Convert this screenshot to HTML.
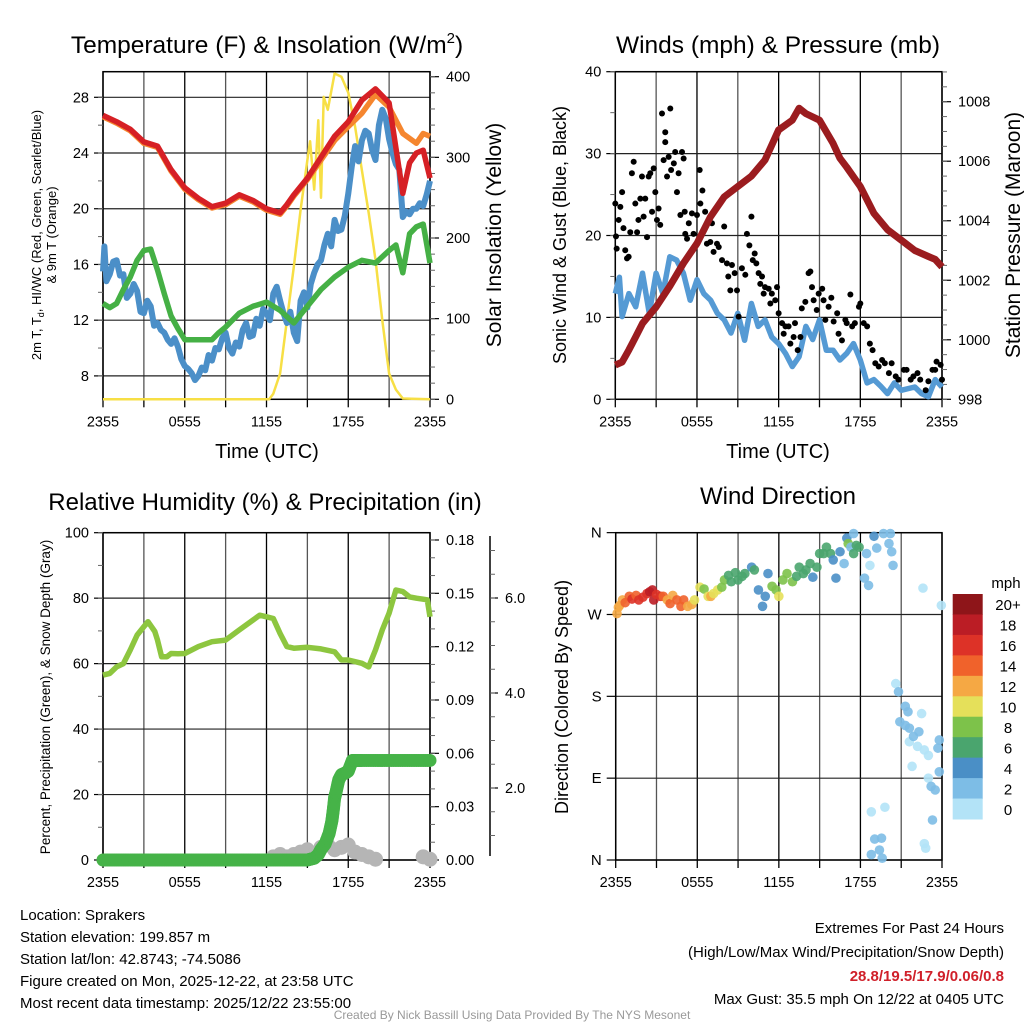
<!DOCTYPE html>
<html><head><meta charset="utf-8">
<style>
html,body{margin:0;padding:0;background:#fff;}
svg{display:block;font-family:"Liberation Sans",sans-serif;}
</style></head>
<body>
<svg id="chart" width="1024" height="1024" viewBox="0 0 1024 1024" xmlns="http://www.w3.org/2000/svg">
<g id="g"></g>
</svg>
<script>
// ---------------- data ----------------
const xTickLabels=["2355","0555","1155","1755","2355"];
const redH=[0,1,2,3,4,5,6,7,8,9,10,11,12,13,13.5,14,15,16,17,18,19,20,21,22,22.5,23,23.5,24];
const redT=[26.7,26.25,25.7,24.8,24.5,22.8,21.5,20.75,20.15,20.4,21.0,20.6,20.0,19.7,20.3,21.0,22.2,23.7,25.2,26.25,27.8,28.6,27.6,21.1,23.3,24.0,24.2,22.2];
const orangeH=[0,1,2,3,4,5,6,7,8,9,10,11,12,13,13.5,14,15,16,17,18,19,20,21,22,23,23.5,24];
const orangeT=[26.6,26.15,25.6,24.7,24.4,22.7,21.4,20.65,20.05,20.3,20.9,20.5,19.9,19.6,20.2,20.9,22.1,23.5,24.9,25.9,26.85,28.2,27.3,25.4,24.7,25.4,25.2];
const greenH=[0,0.5,1,1.5,2,2.5,3,3.5,4,4.5,5,5.5,6,7,8,8.5,9,10,11,12,13,14,15,16,17,18,19,20,21,21.5,22,22.5,23,23.5,24];
const greenT=[13.2,12.9,13.2,14.2,15.1,16.3,17.0,17.1,15.6,13.9,12.3,11.4,10.6,10.6,10.6,11.1,11.5,12.5,13.0,13.3,12.7,11.8,13.0,14.2,15.1,15.8,16.3,16.1,17.0,17.4,15.4,18.2,18.7,18.9,16.1];
const blueH=[0,0.1,0.25,0.5,0.75,1,1.25,1.5,1.75,2,2.25,2.5,2.75,3,3.25,3.5,3.75,4,4.25,4.5,4.75,5,5.25,5.5,5.75,6,6.25,6.5,6.75,7,7.25,7.5,7.75,8,8.25,8.5,8.75,9,9.25,9.5,9.75,10,10.25,10.5,10.75,11,11.25,11.5,11.75,12,12.25,12.5,12.75,13,13.25,13.5,13.75,14,14.25,14.5,14.75,15,15.25,15.5,15.75,16,16.25,16.5,16.75,17,17.25,17.5,17.75,18,18.25,18.5,18.75,19,19.25,19.5,19.75,20,20.25,20.5,20.75,21,21.25,21.5,21.75,22,22.25,22.5,22.75,23,23.25,23.5,23.75,24];
const blueT=[15.5,17.3,14.8,15.3,16.2,16.3,15.2,15.3,13.6,13.9,14.6,14.1,12.6,12.5,13.4,13.0,11.6,11.8,11.3,11.1,10.6,10.3,10.7,10.1,9.2,8.7,8.5,8.2,7.7,8.0,8.6,8.4,9.5,9.1,10.0,9.9,10.7,11.1,10.0,9.6,10.4,10.1,11.3,11.8,10.8,10.9,12.1,11.6,12.8,12.5,12.0,13.9,14.4,13.4,12.5,11.8,12.6,11.1,10.5,13.4,14.0,12.9,14.6,15.4,16.0,16.3,17.4,18.2,17.3,19.2,18.4,18.5,19.5,21.1,23.0,24.5,23.4,24.9,25.6,25.4,24.2,23.5,26.0,27.1,26.5,25.0,24.0,23.2,22.8,19.4,19.8,19.6,20.0,20.0,20.4,20.2,21.0,22.0];
const solarH=[0,12.2,12.5,13,13.5,14,14.5,15,15.2,15.5,15.8,16,16.2,16.5,17,17.5,18,18.5,19,19.5,20,20.5,21,21.5,22,24];
const solarW=[0,0,7,32,98,164,235,297,320,260,346,250,375,359,404,400,380,338,284,231,173,98,32,12,1,0];
const pressH=[0,0.5,1,1.5,2,3,4,5,6,7,8,9,10,11,12,13,13.5,14,15,16,16.5,17,18,19,20,21,22,23,23.5,24];
const pressMb=[999.15,999.25,999.66,1000.1,1000.55,1001.1,1001.8,1002.57,1003.24,1004.14,1004.8,1005.15,1005.5,1006.04,1007.05,1007.38,1007.78,1007.6,1007.38,1006.6,1006.1,1005.8,1005.15,1004.25,1003.7,1003.35,1003.0,1002.8,1002.7,1002.45];
const windH=[0,0.3,0.5,1,1.5,2,2.5,3,3.5,4,4.5,5,5.5,6,6.5,7,7.5,8,8.5,9,9.5,10,10.5,11,11.5,12,12.5,13,13.5,14,14.5,15,15.5,16,16.5,17,17.5,18,18.5,19,19.5,20,20.5,21,22,22.5,23,23.5,24];
const windMph=[12.9,14.9,10.1,12.9,11.3,15.4,10.5,15.4,12.9,17.4,17.0,15.4,12.1,14.6,12.9,12.1,10.5,9.7,8.1,10.5,7.2,11.7,8.9,9.7,7.6,6.8,5.6,4.0,5.2,8.9,7.3,9.7,6.0,6.0,4.8,5.6,6.8,4.8,2.0,2.4,1.6,0.7,2.0,1.1,1.5,0.7,0.3,2.4,1.5];
const gustH=[0,0.05,0.1,0.25,0.37,0.5,0.6,0.73,0.86,0.98,1.1,1.22,1.35,1.47,1.6,1.7,1.84,1.96,2.08,2.2,2.33,2.45,2.57,2.7,2.82,2.94,3.06,3.18,3.3,3.43,3.55,3.67,3.67,3.8,3.92,4.04,4.1,4.3,4.4,4.53,4.65,4.78,4.9,5.02,5.1,5.14,5.27,5.4,5.63,5.75,6.0,6.2,6.25,6.4,6.6,6.73,6.98,7.1,7.22,7.47,7.6,7.84,8.0,8.2,8.3,8.45,8.57,8.77,8.94,9.06,9.3,9.55,9.67,9.85,10.0,10.1,10.24,10.36,10.53,10.65,10.78,10.9,11.0,11.27,11.39,11.5,11.75,11.88,12.0,12.25,12.37,12.5,12.73,12.86,13.1,13.2,13.4,13.6,13.7,13.96,14.2,14.33,14.45,14.57,14.8,14.94,15.2,15.3,15.43,15.67,15.87,16.04,16.3,16.4,16.65,16.9,17.0,17.27,17.4,17.6,17.9,18.0,18.25,18.5,18.7,18.9,19.1,19.35,19.6,19.8,20.1,20.3,20.6,20.8,21.2,21.4,21.7,21.9,22.2,22.4,22.8,23.0,23.3,23.5,23.6,23.9,24];
const gustMph=[23.9,19.9,18.4,21.9,23.5,25.3,20.9,18.2,17.2,17.4,20.4,27.6,29.0,23.9,20.4,21.9,24.5,27.2,22.3,24.5,19.8,27.2,27.6,22.9,28.2,25.3,21.9,23.3,21.3,34.9,29.2,32.6,31.4,27.2,29.6,35.5,28.0,28.8,30.2,25.3,27.6,22.5,30.2,29.4,22.9,20.2,19.6,21.5,22.7,20.2,22.5,28.0,23.9,25.5,22.9,19.0,19.2,21.5,18.0,19.0,18.6,17.0,21.1,16.6,15.0,13.3,16.4,15.4,13.3,10.1,16.0,15.2,20.2,18.8,22.3,17.0,17.8,16.6,15.4,14.1,15.0,12.9,13.7,13.5,11.7,12.9,12.1,13.7,10.5,9.3,8.0,8.9,8.9,6.8,7.6,9.3,6.0,7.6,11.1,11.9,15.4,15.6,13.7,12.1,10.9,12.9,13.5,12.1,9.7,11.3,12.4,9.5,10.5,8.0,7.2,9.7,9.3,12.8,8.9,9.3,11.3,11.7,9.3,8.9,6.8,6.0,4.4,4.0,4.8,4.4,3.2,4.4,2.8,2.4,3.6,3.6,2.4,2.8,3.2,2.4,1.1,2.2,3.6,3.6,4.6,4.2,2.4];
const rhH=[0,0.5,1,1.5,2,2.5,3,3.3,3.8,4,4.3,4.7,5,5.5,6,7,8,9,10,11,11.5,12,12.5,13,13.5,14,15,16,17,17.5,18,19,19.5,20,20.5,21,21.5,22,22.5,23,23.8,24];
const rhPct=[56.5,57,59,60,64.2,68.7,71.3,72.8,69.8,67.2,62.1,62.1,63.1,63.0,63.1,65.2,66.7,67.2,70.3,73.3,74.8,74.3,73.8,69.2,65.2,64.7,65.0,64.5,63.6,61.1,61.1,60.1,59.0,64.2,70.3,75.4,82.5,82.0,80.4,80.0,79.5,74.3];
const precipH=[0,1,2,3,4,5,6,7,8,9,10,11,12,13,14,15,15.5,15.8,16,16.3,16.6,16.8,16.9,17.0,17.1,17.3,17.5,17.8,18,18.3,18.6,19,20,21,22,23,24];
const precipIn=[0,0,0,0,0,0,0,0,0,0,0,0,0,0,0,0,0.001,0.003,0.006,0.009,0.015,0.022,0.028,0.035,0.038,0.045,0.048,0.049,0.05,0.056,0.056,0.056,0.056,0.056,0.056,0.056,0.056];
const snowH=[12.5,13,13.5,14,14.5,15,15.5,16,16.5,17,17.5,18,18.5,19,19.5,20,23.5,24];
const snowIn=[0.55,0.6,0.55,0.6,0.65,0.7,0.6,0.75,0.8,0.7,0.75,0.8,0.65,0.6,0.55,0.5,0.55,0.5];
const dirH=[0.1,0.2,0.3,0.5,0.7,1.0,1.2,1.5,1.7,2.0,2.3,2.5,2.7,2.8,3.0,3.3,3.5,3.8,4.0,4.2,4.5,4.8,5.0,5.3,5.6,5.8,6.2,6.5,6.8,7.0,7.2,7.5,7.8,8.0,8.3,8.5,8.8,9.0,9.3,9.5,10.0,10.2,10.5,10.8,11.0,11.2,11.5,11.8,12.0,12.3,12.6,13.0,13.3,13.5,13.8,14.0,14.3,14.5,14.8,15.0,15.3,15.5,15.8,16.0,16.2,16.5,16.8,17.0,17.1,17.3,17.5,17.5,17.7,17.9,18.3,18.45,18.6,18.7,19.0,19.2,19.7,20.1,20.2,20.3,20.4,20.6,20.8,20.9,21.3,21.3,21.5,21.6,21.6,21.8,21.9,22.2,22.3,22.5,22.6,22.7,23.0,23.0,23.2,23.3,23.5,23.7,23.8,23.8,23.95,18.8,19.8,19.05,19.55,18.8,19.4,19.6,22.7,22.8];
const dirDeg=[271,278,280,286,283,290,287,291,286,289,293,295,297,286,292,290,290,286,282,291,286,279,286,279,281,286,300,298,290,290,293,297,300,308,313,306,316,308,312,315,322,319,297,279,290,315,301,297,290,308,315,306,312,322,315,319,326,311,322,337,337,344,337,330,310,339,326,354,348,344,359,337,346,344,310,337,302,324,356,343,359,348,359,339,324,194,185,152,169,148,163,145,130,103,136,125,141,161,299,121,115,90,81,44,77,123,132,97,280,53,58,23,24,6,11,2,18,13];
const dirSpd=[12,13,13,12,14,15,16,15,17,16,17,18,19,18,16,17,15,13,14,13,15,14,15,12,12,11,10,8,10,13,10,11,8,8,6,7,7,6,6,7,5,6,4,4,5,5,8,9,10,9,8,9,7,7,7,6,6,5,6,7,7,6,6,5,4,4,3,4,8,3,2,6,6,6,3,3,2,1,4,2,2,2,2,2,2,1,3,2,2,2,3,2,1,1,3,1,2,1,0,1,1,1,2,3,2,3,3,3,0,1,1,2,2,3,2,2,1,1];
const barLabels=["20+","18","16","14","12","10","8","6","4","2","0"];
const barColors=["#8e1519","#bb1d25","#dd3227","#f0622b","#f5a844","#e5e05a","#7dc24a","#4aa56e","#4a8fc6","#7dbde6","#b3e3f7"];

// ---------------- helpers ----------------
const NS="http://www.w3.org/2000/svg";
const G=document.getElementById("g");
function mk(tag,attrs,parent){const e=document.createElementNS(NS,tag);for(const k in attrs)e.setAttribute(k,attrs[k]);(parent||G).appendChild(e);return e;}
function txt(s,x,y,size,anchor,extra,parent){const t=mk("text",Object.assign({x:x,y:y,"font-size":size,"text-anchor":anchor||"middle",fill:"#000"},extra||{}),parent);t.textContent=s;return t;}
function line(x1,y1,x2,y2,stroke,w,parent){return mk("line",{x1:x1,y1:y1,x2:x2,y2:y2,stroke:stroke,"stroke-width":w},parent);}
function pathFrom(xs,ys,fx,fy){let d="";for(let i=0;i<xs.length;i++){d+=(i?"L":"M")+fx(xs[i]).toFixed(1)+","+fy(ys[i]).toFixed(1);}return d;}

const P1={x0:103,x1:430,top:71.7,bot:399.3};
const P2={x0:615.3,x1:942,top:71.7,bot:399.3};
const P3={x0:103,x1:430,top:532.7,bot:860};
const P4={x0:615.7,x1:942,top:532.7,bot:860};
const sx=(p)=>(h)=>p.x0+h/24*(p.x1-p.x0);
const yT=(v)=>97.3+(28-v)*13.93;
const ySol=(v)=>399.3-v*0.8065;
const yWind=(v)=>399.3-v*8.19;
const yPres=(v)=>399.3-(v-998)*29.76;
const yRH=(v)=>860-v*3.273;
const yPre=(v)=>860-v*1777.8;
const ySnow=(v)=>883-v*47.5;
const yDir=(v)=>860-v*0.9093;

function frame(p,name,hLines,parent){
  const g=mk("g",{},parent);
  
  
  for(let i=0;i<=8;i++){const x=p.x0+i*(p.x1-p.x0)/8;line(x,p.top,x,p.bot,i%2?"#555":"#000",1.3,g);line(x,p.bot,x,p.bot+8,"#000",1.3,g);}
  hLines.forEach(y=>line(p.x0,y,p.x1,y,"#222",1.2,g));
  mk("rect",{x:p.x0,y:p.top,width:p.x1-p.x0,height:p.bot-p.top,fill:"none",stroke:"#000","stroke-width":1.5},g);
  const lg=mk("g",{},parent);
  
  
  xTickLabels.forEach((s,i)=>txt(s,p.x0+i*(p.x1-p.x0)/4,p.bot+27,14.5,"middle",{},lg));
}
function yAxis(x,vals,fy,fmt,side,size,minors,name){
  const g=mk("g",{});
  
  
  const dir=side==="left"?-1:1;
  vals.forEach(v=>{const y=fy(v);line(x,y,x+dir*9,y,"#000",1.2,g);txt(fmt(v),x+dir*(side==="left"?14:16),y+5,size||14,side==="left"?"end":"start",{},g);});
  (minors||[]).forEach(v=>{const y=fy(v);line(x,y,x+dir*5,y,"#666",1,g);});
}
function rng(a,b,s){const r=[];for(let v=a;v<=b+1e-9;v+=s)r.push(+v.toFixed(4));return r;}

// ---------------- Panel 1 ----------------
txt("",267,53,24.5,"middle",{}).innerHTML='Temperature (F) &amp; Insolation (W/m<tspan font-size="15" dy="-10">2</tspan><tspan dy="10">)</tspan>';
frame(P1,"temp-panel",[8,12,16,20,24,28].map(yT));
yAxis(P1.x0,[8,12,16,20,24,28],yT,v=>String(v),"left",14.5,rng(8,28,2),"temp-y-axis");
yAxis(P1.x1,[0,100,200,300,400],ySol,v=>String(v),"right",14.5,rng(0,400,20),"solar-y-axis");
{const f=sx(P1);
let e=mk("path",{d:pathFrom(solarH,solarW,f,ySol),fill:"none",stroke:"#f7df45","stroke-width":2.5,"stroke-linejoin":"round"});

e=mk("path",{d:pathFrom(blueH,blueT,f,yT),fill:"none",stroke:"#4b8fc8","stroke-width":6,"stroke-linejoin":"round"});

e=mk("path",{d:pathFrom(greenH,greenT,f,yT),fill:"none",stroke:"#45b045","stroke-width":5.5,"stroke-linejoin":"round"});

e=mk("path",{d:pathFrom(orangeH,orangeT,f,yT),fill:"none",stroke:"#f5862f","stroke-width":5.5,"stroke-linejoin":"round"});

e=mk("path",{d:pathFrom(redH,redT,f,yT),fill:"none",stroke:"#d62025","stroke-width":5.5,"stroke-linejoin":"round"});
}
{const t=txt("",0,0,13,"middle",{transform:"translate(41,235) rotate(-90)",});
t.innerHTML='2m T, T<tspan font-size="9" dy="3">d</tspan><tspan dy="-3">, HI/WC (Red, Green, Scarlet/Blue)</tspan>';
txt("& 9m T (Orange)",0,0,13,"middle",{transform:"translate(56,235) rotate(-90)",});}
txt("Solar Insolation (Yellow)",0,0,21,"middle",{transform:"translate(501,235) rotate(-90)",});
txt("Time (UTC)",267,458,20,"middle",{});

// ---------------- Panel 2 ----------------
txt("Winds (mph) & Pressure (mb)",778,53,24.5,"middle",{});
frame(P2,"winds-panel",[0,10,20,30,40].map(yWind));
yAxis(P2.x0,[0,10,20,30,40],yWind,v=>String(v),"left",14.5,rng(0,40,5),"wind-y-axis");
yAxis(P2.x1,[998,1000,1002,1004,1006,1008],yPres,v=>String(v),"right",14.5,rng(998,1009,0.5),"pressure-y-axis");
{const f=sx(P2);
let e=mk("path",{d:pathFrom(windH,windMph,f,yWind),fill:"none",stroke:"#559ad4","stroke-width":5.5,"stroke-linejoin":"round"});

const gg=mk("g",{});
for(let i=0;i<gustH.length;i++){const c=mk("circle",{cx:f(gustH[i]),cy:yWind(gustMph[i]),r:3,fill:"#000"},gg);}
e=mk("path",{d:pathFrom(pressH,pressMb,f,yPres),fill:"none",stroke:"#9b1c1f","stroke-width":7,"stroke-linejoin":"round"});
}
txt("Sonic Wind & Gust (Blue, Black)",0,0,18,"middle",{transform:"translate(566,235) rotate(-90)",});
txt("Station Pressure (Maroon)",0,0,21,"middle",{transform:"translate(1020,235) rotate(-90)",});
txt("Time (UTC)",778,458,20,"middle",{});

// ---------------- Panel 3 ----------------
txt("Relative Humidity (%) & Precipitation (in)",265,510,24,"middle",{});
frame(P3,"rh-panel",[0,20,40,60,80,100].map(yRH));
yAxis(P3.x0,[0,20,40,60,80,100],yRH,v=>String(v),"left",14.5,rng(0,100,10),"rh-y-axis");
yAxis(P3.x1,[0,0.03,0.06,0.09,0.12,0.15,0.18],yPre,v=>v.toFixed(2),"right",14.5,rng(0,0.18,0.01),"precip-y-axis");
line(490,536,490,856,"#000",1.5);
{const g=mk("g",{});
[2,4,6].forEach(v=>{line(490,ySnow(v),498,ySnow(v),"#000",1.2,g);txt(v.toFixed(1),505,ySnow(v)+5,14.5,"start",{},g);});
rng(0.5,7,0.5).forEach(v=>{const y=ySnow(v);if(y>536&&y<858)line(490,y,495,y,"#666",1,g);});}
{const f=sx(P3);
const sg=mk("g",{});
for(let i=0;i<snowH.length;i++){const c=mk("circle",{cx:f(snowH[i]),cy:ySnow(snowIn[i]),r:7.5,fill:"#b5b5b5"},sg);}
let e=mk("path",{d:pathFrom(rhH,rhPct,f,yRH),fill:"none",stroke:"#8dc63f","stroke-width":5.5,"stroke-linejoin":"round"});

const pg=mk("g",{});
for(let i=0;i<precipH.length-1;i++){for(let k=0;k<6;k++){const t=k/6;const h=precipH[i]+t*(precipH[i+1]-precipH[i]);const v=precipIn[i]+t*(precipIn[i+1]-precipIn[i]);
const c=mk("circle",{cx:f(h),cy:yPre(v),r:6.5,fill:"#46b348"},pg);}}
const c=mk("circle",{cx:f(24),cy:yPre(precipIn[precipIn.length-1]),r:6.5,fill:"#46b348"},pg);}
txt("Percent, Precipitation (Green), & Snow Depth (Gray)",0,0,13.5,"middle",{transform:"translate(50,697) rotate(-90)",});

// ---------------- Panel 4 ----------------
txt("Wind Direction",778,504,24,"middle",{});
frame(P4,"direction-panel",[0,90,180,270,360].map(yDir));
yAxis(P4.x0,[0,90,180,270,360],yDir,v=>["N","E","S","W","N"][v/90],"left",15,[],"direction-y-axis");
{const f=sx(P4);
const dg=mk("g",{});
for(let i=0;i<dirH.length;i++){const b=Math.min(10,Math.floor(dirSpd[i]/2));const col=barColors[10-b];
const c=mk("circle",{cx:f(dirH[i]),cy:yDir(dirDeg[i]),r:4.8,fill:col,"fill-opacity":0.9},dg);}}
txt("Direction (Colored By Speed)",0,0,18,"middle",{transform:"translate(568,697) rotate(-90)",});
{const g=mk("g",{});
txt("mph",1006,588,15,"middle",{},g);
const h=(819-594)/11;
barColors.forEach((col,i)=>{const r=mk("rect",{x:952.7,y:594+i*h,width:30,height:h+0.5,fill:col},g);
txt(barLabels[i],1008,594+i*h+h/2+6,15,"middle",{},g);});}

// ---------------- footer ----------------
{const g=mk("g",{});
["Location: Sprakers","Station elevation: 199.857 m","Station lat/lon: 42.8743; -74.5086","Figure created on Mon, 2025-12-22, at 23:58 UTC","Most recent data timestamp: 2025/12/22 23:55:00"].forEach((s,i)=>txt(s,20,920+i*22,15,"start",{},g));}
{const g=mk("g",{});
txt("Extremes For Past 24 Hours",1004,933,15,"end",{},g);
txt("(High/Low/Max Wind/Precipitation/Snow Depth)",1004,957,15,"end",{},g);
txt("28.8/19.5/17.9/0.06/0.8",1004,981,15,"end",{fill:"#d0202a","font-weight":"bold"},g);
txt("Max Gust: 35.5 mph On 12/22 at 0405 UTC",1004,1004,15,"end",{},g);}
txt("Created By Nick Bassill Using Data Provided By The NYS Mesonet",512,1019,12,"middle",{fill:"#999",});
</script>
</body></html>
